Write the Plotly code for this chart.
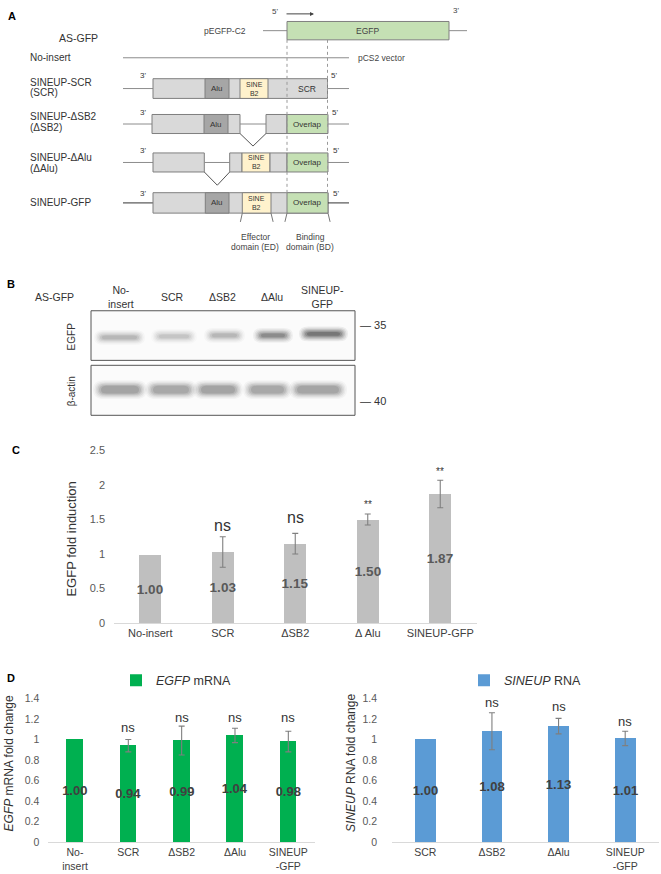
import plotly.graph_objects as go

W, H = 661, 874
FONT = "Liberation Sans, Arial, Helvetica, sans-serif"

# ---------------- data ----------------
# Panel C: EGFP protein fold induction
c_categories = ["No-insert", "SCR", "ΔSB2", "Δ Alu", "SINEUP-GFP"]
c_values = [1.00, 1.03, 1.15, 1.50, 1.87]
c_errors = [None, 0.22, 0.15, 0.08, 0.20]
c_marks = ["", "ns", "ns", "**", "**"]

# Panel D left: EGFP mRNA fold change
dl_categories = ["No-insert", "SCR", "ΔSB2", "ΔAlu", "SINEUP-GFP"]
dl_ticklabels = ["No-<br>insert", "SCR", "ΔSB2", "ΔAlu", "SINEUP<br>-GFP"]
dl_values = [1.00, 0.94, 0.99, 1.04, 0.98]
dl_errors = [None, 0.06, 0.14, 0.07, 0.10]
dl_marks = ["", "ns", "ns", "ns", "ns"]

# Panel D right: SINEUP RNA fold change
dr_categories = ["SCR", "ΔSB2", "ΔAlu", "SINEUP-GFP"]
dr_ticklabels = ["SCR", "ΔSB2", "ΔAlu", "SINEUP<br>-GFP"]
dr_values = [1.00, 1.08, 1.13, 1.01]
dr_errors = [None, 0.18, 0.075, 0.07]
dr_marks = ["", "ns", "ns", "ns"]

# Panel B: western blot lanes and relative band strength
blot_lanes = ["No-<br>insert", "SCR", "ΔSB2", "ΔAlu", "SINEUP-<br>GFP"]
egfp_band_strength = [0.45, 0.35, 0.45, 0.85, 1.1]
actin_band_strength = [0.62, 0.58, 0.62, 0.58, 0.6]

# ---------------- layout helpers (positions of annotations etc.) ----------------
c_mark_y = [None, 1.414, 1.524, 1.713, 2.199]
dl_mark_y = [None, 1.113, 1.215, 1.215, 1.215]
dr_mark_y = [None, 1.361, 1.32, 1.177]


def px(x):
    return x / W


def py(y):
    return 1 - y / H


shapes = []
annots = []

GRAY_LINE = "#8c8c8c"
BOX_LINE = "#7f7f7f"
LIGHT = "#d9d9d9"
ALU = "#a6a6a6"
SINE = "#fff2cc"
GREEN = "#c5e0b4"


def rect(x0, y0, x1, y1, fill, line=BOX_LINE, lw=1, opacity=1.0):
    shapes.append(dict(type="rect", xref="x4", yref="y4", x0=x0, y0=y0, x1=x1, y1=y1,
                       fillcolor=fill, line=dict(color=line, width=lw), opacity=opacity,
                       layer="above"))


def seg(x0, y0, x1, y1, color=GRAY_LINE, width=1, dash="solid"):
    shapes.append(dict(type="line", xref="x4", yref="y4", x0=x0, y0=y0, x1=x1, y1=y1,
                       line=dict(color=color, width=width, dash=dash), layer="above"))


def txt(x, y, s, size=9, color="#333333", xanchor="center", yanchor="middle", angle=0, bold=False):
    annots.append(dict(xref="x4", yref="y4", x=x, y=y, text=s, showarrow=False,
                       xanchor=xanchor, yanchor=yanchor, textangle=angle,
                       font=dict(family=FONT, size=size, color=color,
                                 weight="bold" if bold else "normal")))


# ---------------- Panel A: schematic ----------------
txt(6, 10, "A", size=11, color="#000", xanchor="left", bold=True)

# AS-GFP row
txt(57, 32, "AS-GFP", size=10.5, xanchor="left")
txt(248, 25, "pEGFP-C2", size=8.5, xanchor="right", color="#444")
seg(263, 25, 287, 25)
rect(287, 15.7, 449, 34.3, GREEN)
seg(449, 25, 467, 25)
txt(367, 25, "EGFP", size=8.5, color="#444")
txt(275, 6, "5'", size=8, color="#444")
txt(456, 5, "3'", size=8, color="#444")
annots.append(dict(xref="x4", yref="y4", x=314, y=8, ax=285, ay=8, axref="x4", ayref="y4",
                   text="", showarrow=True, arrowhead=2, arrowsize=0.8, arrowwidth=1,
                   arrowcolor="#444"))

# No-insert row
txt(28, 52.5, "No-insert", size=10, xanchor="left")
seg(123, 52.5, 349, 52.5)
txt(356, 52.5, "pCS2 vector", size=8.5, xanchor="left", color="#444")

# SINEUP-SCR row
y0, y1 = 73.7, 93.7
ly = (y0 + y1) / 2
txt(28, 77.3, "SINEUP-SCR", size=10, xanchor="left")
txt(28, 87.8, "(SCR)", size=10, xanchor="left")
seg(123, ly, 153, ly)
rect(153, y0, 327.5, y1, LIGHT)
rect(205, y0, 229, y1, ALU)
rect(240, y0, 268, y1, SINE)
seg(327.5, ly, 349, ly)
txt(217, ly, "Alu", size=8)
txt(254, ly, "SINE<br>B2", size=7)
txt(307, ly, "SCR", size=8.5)
txt(143, 70, "3'", size=8)
txt(334, 70, "5'", size=8)

# SINEUP-ΔSB2 row
y0, y1 = 110, 129.3
ly = (y0 + y1) / 2
txt(28, 112.3, "SINEUP-ΔSB2", size=10, xanchor="left")
txt(28, 122.8, "(ΔSB2)", size=10, xanchor="left")
seg(123, ly, 152, ly)
rect(152, y0, 240, y1, LIGHT)
rect(204, y0, 228, y1, ALU)
seg(240, ly, 266, ly)
rect(266, y0, 287, y1, LIGHT)
rect(287, y0, 328, y1, GREEN)
seg(328, ly, 349, ly)
seg(240, y1, 253, 142, color="#555")
seg(253, 142, 266, y1, color="#555")
txt(216, ly, "Alu", size=8)
txt(307.5, ly, "Overlap", size=8)
txt(143, 108, "3'", size=8)
txt(335, 108, "5'", size=8)

# SINEUP-ΔAlu row
y0, y1 = 149, 168.3
ly = (y0 + y1) / 2
txt(28, 153.3, "SINEUP-ΔAlu", size=10, xanchor="left")
txt(28, 164.3, "(ΔAlu)", size=10, xanchor="left")
seg(123, ly, 153, ly)
rect(153, y0, 204.3, y1, LIGHT)
seg(204.3, ly, 229.7, ly)
seg(204.3, y1, 217.3, 181.7, color="#555")
seg(217.3, 181.7, 229.7, y1, color="#555")
rect(229.7, y0, 242, y1, LIGHT)
rect(242, y0, 270, y1, SINE)
rect(270, y0, 287, y1, LIGHT)
rect(287, y0, 328, y1, GREEN)
seg(328, ly, 349, ly)
txt(256, ly, "SINE<br>B2", size=7)
txt(307.5, ly, "Overlap", size=8)
txt(143, 146, "3'", size=8)
txt(336, 146.7, "5'", size=8)

# SINEUP-GFP row
y0, y1 = 189.3, 210
ly = (y0 + y1) / 2
txt(28, 199, "SINEUP-GFP", size=10, xanchor="left")
seg(123, ly, 153, ly, color="#333")
rect(153, y0, 328, y1, LIGHT)
rect(205.3, y0, 229, y1, ALU)
rect(242.3, y0, 271, y1, SINE)
rect(287, y0, 328, y1, GREEN)
seg(328, ly, 349, ly, color="#333")
txt(217, ly, "Alu", size=8)
txt(256.5, ly, "SINE<br>B2", size=7)
txt(307.5, ly, "Overlap", size=8)
txt(143, 190, "3'", size=8)
txt(336, 190, "5'", size=8)

# dotted guides and domain brackets
seg(287, 34.3, 287, 189.3, color="#999", dash="dot")
seg(327.5, 34.3, 327.5, 189.3, color="#999", dash="dot")
seg(242.3, 210, 238.7, 226.7, color="#777", dash="dash")
seg(271, 210, 275, 226.7, color="#777", dash="dash")
seg(287, 210, 283, 227, color="#777", dash="dash")
seg(328, 210, 332, 227, color="#777", dash="dash")
txt(255, 234.3, "Effector", size=8.5, color="#444")
txt(255, 244, "domain (ED)", size=8.5, color="#444")
txt(310, 234.3, "Binding", size=8.5, color="#444")
txt(310, 244, "domain (BD)", size=8.5, color="#444")

# ---------------- Panel B: western blot ----------------
txt(5, 281.7, "B", size=11, color="#000", xanchor="left", bold=True)
txt(54, 295, "AS-GFP", size=10.5)
lane_x = [121, 172, 222, 272, 322]
for lx, lab in zip(lane_x, blot_lanes):
    txt(lx, 295, lab, size=10.5)

rect(91, 309, 355, 359.3, "#fbfbfb", line="#555", lw=1)
rect(91, 364.3, 355, 415, "#fbfbfb", line="#555", lw=1)
txt(71, 335, "EGFP", size=10, angle=-90)
txt(71, 390.7, "β-actin", size=10, angle=-90)
txt(358, 323.3, "— 35", size=11, xanchor="left")
txt(358, 401, "— 40", size=11, xanchor="left")

egfp_band_x = [(100, 139), (157, 191), (210, 239), (259, 287), (305, 342)]
egfp_band_y = [336, 335, 334, 334, 332.5]
actin_band_x = [(99, 141), (151, 191), (199, 237), (249, 286), (295, 341)]
blur_layers = [(6, 5, 0.06), (4.5, 3.8, 0.08), (3, 2.6, 0.11), (1.5, 1.4, 0.14), (0, 0.3, 0.17),
               (-2, -0.6, 0.2)]


def rounded(x0, y0, x1, y1):
    r = min((x1 - x0) / 2, (y1 - y0) / 2 + 2)
    yc = (y0 + y1) / 2
    return (f"M {x0 + r},{y0} L {x1 - r},{y0} Q {x1},{y0} {x1},{yc} Q {x1},{y1} {x1 - r},{y1} "
            f"L {x0 + r},{y1} Q {x0},{y1} {x0},{yc} Q {x0},{y0} {x0 + r},{y0} Z")


def band(xr, yc, half_h, strength):
    for dx, dy, op in blur_layers:
        shapes.append(dict(type="path", xref="x4", yref="y4",
                           path=rounded(xr[0] - dx, yc - half_h - dy, xr[1] + dx, yc + half_h + dy),
                           fillcolor="rgb(30,30,30)", opacity=min(op * strength, 0.9),
                           line=dict(width=0), layer="above"))


for xr, yc, s in zip(egfp_band_x, egfp_band_y, egfp_band_strength):
    band(xr, yc, 2.5, s)
for xr, s in zip(actin_band_x, actin_band_strength):
    band(xr, 389, 4.5, s)

# ---------------- Panel letters for C, D ----------------
txt(10, 450, "C", size=11, color="#000", xanchor="left", bold=True)
txt(5, 681.7, "D", size=11, color="#000", xanchor="left", bold=True)

# axis titles (rotated)
txt(72, 541, "EGFP fold induction", size=13, angle=-90, color="#333")
txt(9, 768, "<i>EGFP</i> mRNA fold change", size=12, angle=-90, color="#333")
txt(351.5, 768, "<i>SINEUP</i> RNA fold change", size=12, angle=-90, color="#333")

# ---------------- figure ----------------
fig = go.Figure()

# invisible anchor trace for schematic axes
fig.add_trace(go.Scatter(x=[0], y=[0], xaxis="x4", yaxis="y4", mode="markers",
                         marker=dict(opacity=0), showlegend=False, hoverinfo="skip"))

err_style = dict(type="data", color="#7f7f7f", thickness=1.1, width=3, visible=True)


def add_panel(cats, vals, errs, xa, ya, color, tcolor, tsize, name=None, legend=None):
    fig.add_trace(go.Bar(
        x=cats, y=vals, xaxis=xa, yaxis=ya, width=0.31,
        marker=dict(color=color, line=dict(width=0)),
        text=[f"{v:.2f}" for v in vals], textposition="inside", insidetextanchor="middle",
        textangle=0, constraintext="none",
        insidetextfont=dict(family=FONT, size=tsize, color=tcolor, weight="bold"),
        name=name or "", legend=legend or "legend", showlegend=name is not None,
        hoverinfo="skip"))
    # error bars only where a value exists
    ex = [c for c, e in zip(cats, errs) if e is not None]
    ey = [v for v, e in zip(vals, errs) if e is not None]
    ee = [e for e in errs if e is not None]
    fig.add_trace(go.Scatter(
        x=ex, y=ey, xaxis=xa, yaxis=ya, mode="markers",
        marker=dict(size=1, opacity=0), error_y=dict(array=ee, **err_style),
        showlegend=False, hoverinfo="skip"))


add_panel(c_categories, c_values, c_errors, "x", "y", "#bfbfbf", "#595959", 13.5)
add_panel(dl_categories, dl_values, dl_errors, "x2", "y2", "#00b050", "#404040", 13,
          name="<i>EGFP</i> mRNA", legend="legend")
add_panel(dr_categories, dr_values, dr_errors, "x3", "y3", "#5b9bd5", "#404040", 13,
          name="<i>SINEUP</i> RNA", legend="legend2")

# significance marks
for cat, m, yv in zip(c_categories, c_marks, c_mark_y):
    if m:
        annots.append(dict(xref="x", yref="y", x=cat, y=yv, text=m, showarrow=False,
                           yanchor="middle",
                           font=dict(family=FONT, size=16 if m == "ns" else 10, color="#333")))
for cat, m, yv in zip(dl_categories, dl_marks, dl_mark_y):
    if m:
        annots.append(dict(xref="x2", yref="y2", x=cat, y=yv, text=m, showarrow=False,
                           yanchor="middle", font=dict(family=FONT, size=13, color="#333")))
for cat, m, yv in zip(dr_categories, dr_marks, dr_mark_y):
    if m:
        annots.append(dict(xref="x3", yref="y3", x=cat, y=yv, text=m, showarrow=False,
                           yanchor="middle", font=dict(family=FONT, size=13, color="#333")))

xcommon = dict(type="category", showline=True, linecolor="#d9d9d9", linewidth=1,
               showgrid=False, zeroline=False, ticks="", fixedrange=True)
ycommon = dict(showgrid=False, zeroline=False, showline=False, ticks="", fixedrange=True)

fig.update_layout(
    width=W, height=H, margin=dict(l=0, r=0, t=0, b=0),
    paper_bgcolor="white", plot_bgcolor="rgba(0,0,0,0)",
    font=dict(family=FONT, color="#404040"),
    bargap=0, hovermode=False,
    xaxis=dict(domain=[px(114), px(476.5)], anchor="y", **xcommon,
               categoryorder="array", categoryarray=c_categories,
               tickfont=dict(size=11, color="#404040")),
    yaxis=dict(domain=[py(625.7), py(450.7)], anchor="x", range=[0, 2.5], dtick=0.5,
               tickfont=dict(size=11, color="#595959"), ticklabelstandoff=8, **ycommon),
    xaxis2=dict(domain=[px(48.3), px(315)], anchor="y2", **xcommon,
                categoryorder="array", categoryarray=dl_categories,
                tickvals=dl_categories, ticktext=dl_ticklabels,
                tickfont=dict(size=10.5, color="#404040")),
    yaxis2=dict(domain=[py(848), py(702)], anchor="x2", range=[0, 1.4], dtick=0.2,
                tickfont=dict(size=10.5, color="#595959"), ticklabelstandoff=8, **ycommon),
    xaxis3=dict(domain=[px(392), px(658.5)], anchor="y3", **xcommon,
                categoryorder="array", categoryarray=dr_categories,
                tickvals=dr_categories, ticktext=dr_ticklabels,
                tickfont=dict(size=10.5, color="#404040")),
    yaxis3=dict(domain=[py(848), py(702)], anchor="x3", range=[0, 1.4], dtick=0.2,
                tickfont=dict(size=10.5, color="#595959"), ticklabelstandoff=14, **ycommon),
    xaxis4=dict(domain=[0, 1], range=[0, W], visible=False, fixedrange=True, anchor="y4"),
    yaxis4=dict(domain=[0, 1], range=[H, 0], visible=False, fixedrange=True, anchor="x4"),
    legend=dict(x=px(116), y=py(684), xanchor="left", yanchor="middle",
                font=dict(family=FONT, size=12.5, color="#333"), bgcolor="rgba(0,0,0,0)"),
    legend2=dict(x=px(464), y=py(684), xanchor="left", yanchor="middle",
                 font=dict(family=FONT, size=12.5, color="#333"), bgcolor="rgba(0,0,0,0)"),
    shapes=shapes,
    annotations=annots,
)

fig.write_html(
    "out.html",
    config={"displayModeBar": False},
    post_script="document.body.style.margin='0';document.body.style.padding='0';"
                "document.documentElement.style.overflow='hidden';",
)
